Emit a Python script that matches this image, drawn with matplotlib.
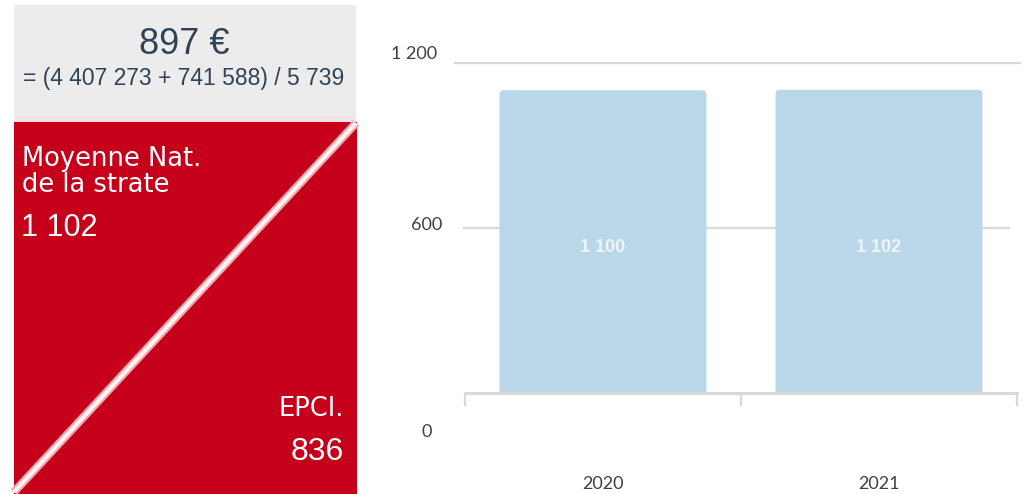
import matplotlib
matplotlib.use("Agg")
import matplotlib.pyplot as plt
import matplotlib.transforms as mtransforms
from matplotlib.patches import Rectangle, FancyBboxPatch
from matplotlib.lines import Line2D

# data
years = ["2020", "2021"]
values = [1100, 1102]
value_labels = ["1 100", "1 102"]
ytick_vals = [0, 600, 1200]
ytick_labels = ["0", "600", "1 200"]

headline = "897 €"
formula = "= (4 407 273 + 741 588) / 5 739"
strate_label = "Moyenne Nat.\nde la strate"
strate_value = "1 102"
epci_label = "EPCI."
epci_value = "836"

W, H = 1031, 494
fig = plt.figure(figsize=(W / 100, H / 100), dpi=100)
fig.patch.set_facecolor("white")

# ---- left panel (pixel coords) ----
axl = fig.add_axes([0, 0, 1, 1])
axl.set_xlim(0, W)
axl.set_ylim(H, 0)
axl.axis("off")

axl.add_patch(Rectangle((14, 5), 342, 113, color="#ececec", lw=0))
axl.add_patch(Rectangle((14, 116), 342, 6, color="#f7e4e6", lw=0))
axl.add_patch(Rectangle((14, 122), 343, H - 122, color="#c6001a", lw=0))
axl.add_line(Line2D([356, 14], [123, 492], color="#f2a3ab", lw=6, solid_capstyle="butt"))
axl.add_line(Line2D([356, 14], [123, 492], color="#fff4f2", lw=3, solid_capstyle="butt"))

txt_dark = "#2f4356"
axl.text(184, 45, headline, ha="center", va="center", fontsize=26,
         color=txt_dark, family="Liberation Sans")
axl.text(184, 78, formula, ha="center", va="center", fontsize=16.5,
         color=txt_dark, family="Liberation Sans")
axl.text(22, 172, strate_label, ha="left", va="center", fontsize=18.5,
         color="white", family="DejaVu Sans", linespacing=1.0)
axl.text(21, 228, strate_value, ha="left", va="center", fontsize=22,
         color="white", family=["Liberation Sans Narrow", "Liberation Sans"])
axl.text(344, 409, epci_label, ha="right", va="center", fontsize=18.5,
         color="white", family="DejaVu Sans")
axl.text(344, 452, epci_value, ha="right", va="center", fontsize=23,
         color="white", family="Liberation Sans")

# ---- bar chart ----
x0, x1, ytop, ybot = 465, 1017, 62.7, 393
ax = fig.add_axes([x0 / W, 1 - ybot / H, (x1 - x0) / W, (ybot - ytop) / H])
ax.set_xlim(-0.5, 1.5)
ax.set_ylim(0, 1200)
ax.patch.set_alpha(0)
for s in ["top", "right", "left"]:
    ax.spines[s].set_visible(False)
ax.spines["bottom"].set_color("#d9d9d9")
ax.spines["bottom"].set_linewidth(2.2)

grid_c = "#d9d9d9"
ax.axhline(1200, xmin=-0.018, xmax=1.005, color=grid_c, lw=1.6, clip_on=False, zorder=0)
ax.axhline(600, xmin=-0.002, xmax=0.985, color=grid_c, lw=1.6, clip_on=False, zorder=0)

bar_w = 0.75
rad_x = 0.016
aspect = (1200 / (ybot - ytop)) / (2 / (x1 - x0))
for i, v in enumerate(values):
    p = FancyBboxPatch((i - bar_w / 2, -40), bar_w, v + 40,
                       boxstyle=f"round,pad=0,rounding_size={rad_x}",
                       mutation_aspect=aspect, fc="#b8d6ea", ec="none",
                       alpha=0.97, zorder=2)
    ax.add_patch(p)
    ax.text(i, v * 0.48, value_labels[i], ha="center", va="center",
            fontsize=13, fontweight="bold", color="#eef5fb",
            family="Liberation Sans", zorder=3)

ax.set_xticks([-0.5, 0.5, 1.5])
ax.set_xticklabels([])
ax.tick_params(axis="x", which="major", length=9, width=1.6, color="#d9d9d9", direction="out")
ax.set_xticks([0, 1], minor=True)
ax.set_xticklabels(years, minor=True)
ax.tick_params(axis="x", which="minor", length=0, pad=60, labelsize=13, labelcolor="#404040")
for lbl in ax.get_xticklabels(minor=True):
    lbl.set_family("Lato")

ax.set_yticks([])
blend = mtransforms.blended_transform_factory(fig.transFigure, ax.transData)
ylab_pos = {0: (432, -39), 600: (442, 3), 1200: (437, 9)}
for v, lab in zip(ytick_vals, ytick_labels):
    xr, dy = ylab_pos[v]
    tr = blend + mtransforms.ScaledTranslation(0, dy / 100, fig.dpi_scale_trans)
    ax.text(xr / W, v, lab, transform=tr, ha="right", va="center",
            fontsize=13, color="#404040", family="Lato")

fig.savefig("out.png", dpi=100)
